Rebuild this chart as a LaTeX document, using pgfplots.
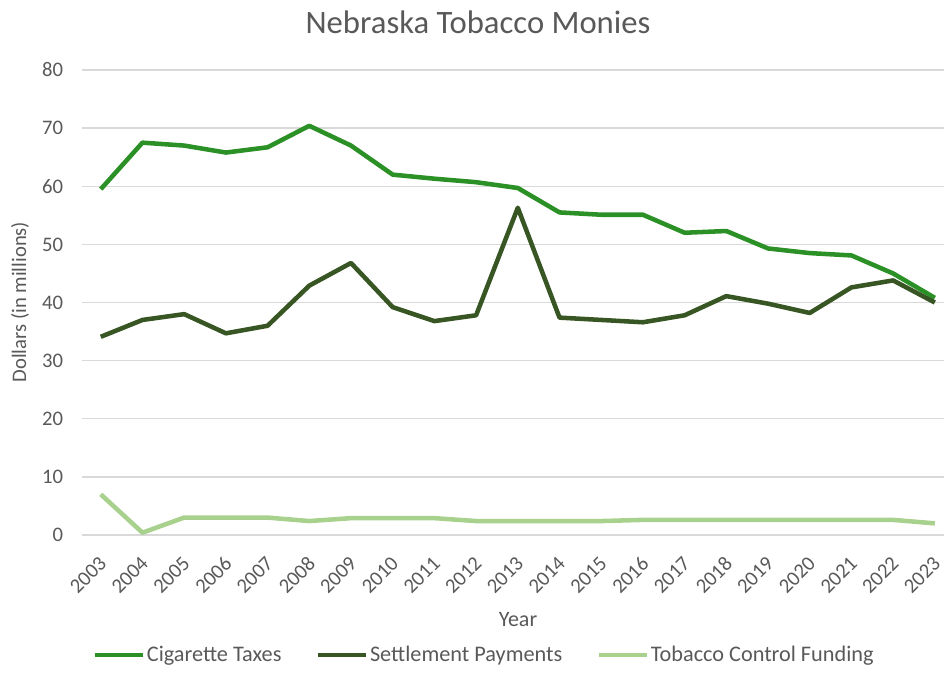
\documentclass[border=0pt]{standalone}
\usepackage{fontspec}
\setmainfont{Carlito}
\usepackage{pgfplots}
\pgfplotsset{compat=1.18}
\definecolor{cigGreen}{RGB}{43,145,38}
\definecolor{setGreen}{RGB}{55,86,35}
\definecolor{tcfGreen}{RGB}{169,209,142}
\definecolor{txtGray}{RGB}{89,89,89}
\definecolor{gridGray}{RGB}{217,217,217}

\begin{document}
\begin{tikzpicture}
\useasboundingbox (0,0) rectangle (708pt,520.5pt);
\begin{axis}[
    at={(61.5pt,119.25pt)}, anchor=south west,
    scale only axis,
    width=646.5pt, height=348.75pt,
    xmin=2002.55, xmax=2023.22,
    ymin=0, ymax=80,
    xtick={2003,...,2023},
    ytick={0,10,...,80},
    /pgf/number format/assume math mode=true,
    /pgf/number format/1000 sep={},
    axis line style={draw=none},
    major tick length=0pt,
    ymajorgrids,
    grid style={gridGray, line width=1pt},
    ticklabel style={font=\fontsize{15.5}{18}\selectfont, text=txtGray},
    yticklabel style={inner sep=0pt, xshift=-14pt},
    xticklabel style={xshift=-2pt, yshift=-15pt, rotate=45, anchor=north east, inner sep=0pt},
    legend style={at={(0.4664,-0.258)}, anchor=center, draw=none, fill=none,
        font=\fontsize{16.7}{20}\selectfont, text=txtGray,
        nodes={inner sep=1.5pt},
        legend columns=3,
        /tikz/every odd column/.append style={column sep=0pt},
        /tikz/every even column/.append style={column sep=24pt}},
    legend image code/.code={\draw[#1, line width=3.4pt] (0pt,0pt) -- (36pt,0pt);},
    clip=false,
]
\addplot[cigGreen, line width=3.4pt, line join=round] coordinates {
(2003,59.5) (2004,67.5) (2005,67.0) (2006,65.8) (2007,66.7) (2008,70.4) (2009,67.0)
(2010,62.0) (2011,61.3) (2012,60.7) (2013,59.7) (2014,55.5) (2015,55.1) (2016,55.1)
(2017,52.0) (2018,52.3) (2019,49.3) (2020,48.5) (2021,48.1) (2022,45.0) (2023,40.8)
};
\addlegendentry{Cigarette Taxes}
\addplot[setGreen, line width=3.4pt, line join=round] coordinates {
(2003,34.1) (2004,37.0) (2005,38.0) (2006,34.7) (2007,36.0) (2008,42.9) (2009,46.8)
(2010,39.2) (2011,36.8) (2012,37.8) (2013,56.3) (2014,37.4) (2015,37.0) (2016,36.6)
(2017,37.8) (2018,41.1) (2019,39.8) (2020,38.2) (2021,42.6) (2022,43.8) (2023,40.0)
};
\addlegendentry{Settlement Payments}
\addplot[tcfGreen, line width=3.4pt, line join=round] coordinates {
(2003,7.0) (2004,0.4) (2005,3.0) (2006,3.0) (2007,3.0) (2008,2.4) (2009,2.9)
(2010,2.9) (2011,2.9) (2012,2.4) (2013,2.4) (2014,2.4) (2015,2.4) (2016,2.6)
(2017,2.6) (2018,2.6) (2019,2.6) (2020,2.6) (2021,2.6) (2022,2.6) (2023,2.0)
};
\addlegendentry{Tobacco Control Funding}
\end{axis}
\node[text=txtGray, font=\fontsize{24.5}{29}\selectfont] at (358.5pt,504pt) {Nebraska Tobacco Monies};
\node[text=txtGray, font=\fontsize{15.5}{18}\selectfont, rotate=90] at (15pt,294pt) {Dollars (in millions)};
\node[text=txtGray, font=\fontsize{16.5}{20}\selectfont] at (388.5pt,55.5pt) {Year};
\end{tikzpicture}
\end{document}
